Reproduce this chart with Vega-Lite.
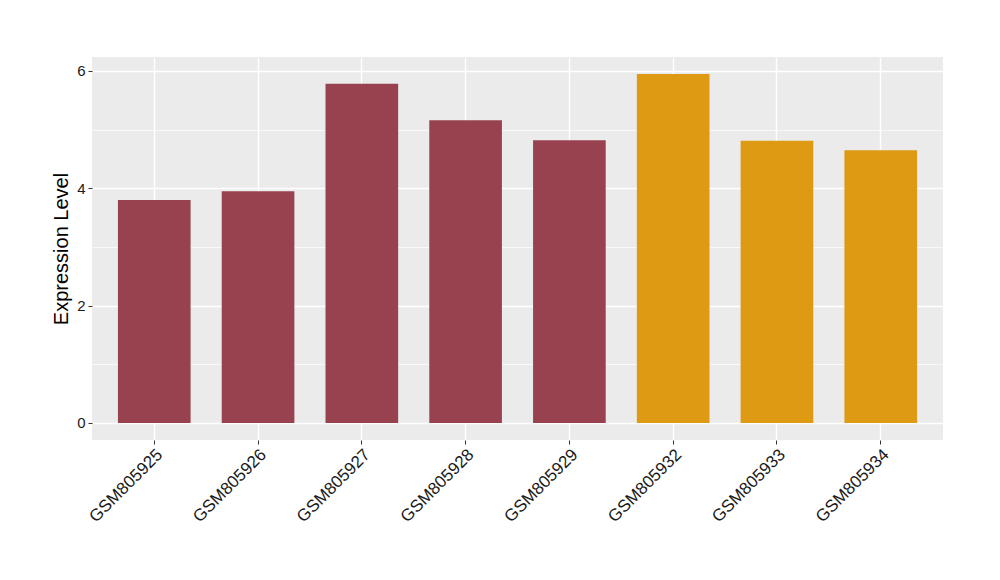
{
  "$schema": "https://vega.github.io/schema/vega-lite/v6.json",
  "autosize": "none",
  "padding": {"left": 92, "top": 57, "right": 57, "bottom": 140},
  "width": 851,
  "height": 383,
  "background": "white",
  "config": {
    "view": {"fill": "#EBEBEB", "stroke": null},
    "font": "Liberation Sans"
  },
  "data": {
    "values": [
      {"sample": "GSM805925", "value": 3.80, "group": "A"},
      {"sample": "GSM805926", "value": 3.95, "group": "A"},
      {"sample": "GSM805927", "value": 5.78, "group": "A"},
      {"sample": "GSM805928", "value": 5.16, "group": "A"},
      {"sample": "GSM805929", "value": 4.82, "group": "A"},
      {"sample": "GSM805932", "value": 5.95, "group": "B"},
      {"sample": "GSM805933", "value": 4.81, "group": "B"},
      {"sample": "GSM805934", "value": 4.65, "group": "B"}
    ]
  },
  "mark": {"type": "bar"},
  "encoding": {
    "x": {
      "field": "sample",
      "type": "nominal",
      "sort": null,
      "scale": {"paddingInner": 0.3, "paddingOuter": 0.25},
      "axis": {
        "title": null,
        "labelAngle": -45,
        "labelAlign": "right",
        "labelBaseline": "top",
        "labelFontSize": 17,
        "labelColor": "#1A1A1A",
        "labelPadding": 2,
        "domain": false,
        "ticks": true,
        "tickSize": 4,
        "tickColor": "#333333",
        "tickBand": "center",
        "grid": true,
        "gridColor": "white",
        "gridWidth": 1.4,
        "bandPosition": 0.5
      }
    },
    "y": {
      "field": "value",
      "type": "quantitative",
      "scale": {"domain": [-0.29, 6.238], "nice": false, "zero": false},
      "axis": {
        "title": "Expression Level",
        "titleFontSize": 20,
        "titleFontWeight": "normal",
        "titleColor": "black",
        "titlePadding": 5,
        "values": [0, 1, 2, 3, 4, 5, 6],
        "labelExpr": "datum.value % 2 === 0 ? datum.label : ''",
        "labelFontSize": 15,
        "labelColor": "#1A1A1A",
        "labelPadding": 3,
        "domain": false,
        "tickSize": 4,
        "tickColor": "#333333",
        "tickOpacity": {"condition": {"test": "datum.value % 2 === 0", "value": 1}, "value": 0},
        "grid": true,
        "gridColor": "white",
        "gridWidth": {"condition": {"test": "datum.value % 2 === 0", "value": 1.4}, "value": 0.7}
      }
    },
    "color": {
      "field": "group",
      "type": "nominal",
      "scale": {"domain": ["A", "B"], "range": ["#99424F", "#DD9A12"]},
      "legend": null
    }
  }
}
